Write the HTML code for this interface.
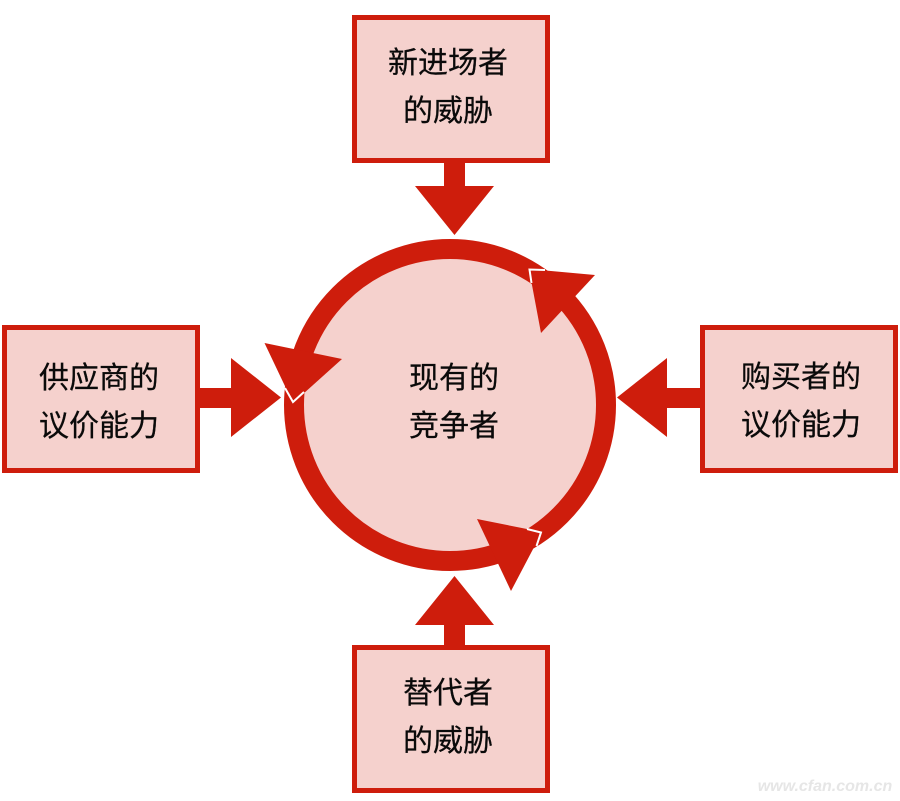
<!DOCTYPE html>
<html lang="zh">
<head>
<meta charset="utf-8">
<title>Diagram</title>
<style>
html,body{margin:0;padding:0;background:#fff;}
body{width:900px;height:801px;overflow:hidden;}
svg{display:block;}
text{font-family:"Liberation Sans","Noto Sans CJK SC",sans-serif;font-size:30px;fill:#0a0a0a;stroke:#0a0a0a;stroke-width:0.25px;text-anchor:middle;}
</style>
</head>
<body>
<svg width="900" height="801" viewBox="0 0 900 801" xmlns="http://www.w3.org/2000/svg">
  <!-- boxes -->
  <g fill="#f5d1cd" stroke="#ce1d0c" stroke-width="5">
    <rect x="354.500" y="17.500" width="193" height="143"/>
    <rect x="354.500" y="647.500" width="193" height="143"/>
    <rect x="4.500" y="327.500" width="193" height="143"/>
    <rect x="702.500" y="327.500" width="193" height="143"/>
  </g>
  <!-- block arrows -->
  <g fill="#ce1d0c">
    <polygon points="444,163 465,163 465,186 494,186 454.500,235 415,186 444,186"/>
    <polygon points="444,645 465,645 465,625 494,625 454.500,576 415,625 444,625"/>
    <polygon points="200,388 231,388 231,358 281,397.500 231,437 231,408 200,408"/>
    <polygon points="700,388 667,388 667,358 617,397.500 667,437 667,408 700,408"/>
  </g>
  <!-- circle and ring -->
  <circle cx="450" cy="405" r="148" fill="#f5d1cd"/>
  <circle cx="450" cy="405" r="156" fill="none" stroke="#ce1d0c" stroke-width="20"/>
  <!-- arc arrowheads -->
  <g fill="#ce1d0c">
    <polygon points="264.500,343 342,359 293,403"/>
    <polygon points="529,269 595,275 541,333"/>
    <polygon points="477,519 542,532 511,591"/>
  </g>
  <!-- white edges -->
  <g fill="none" stroke="#fff" stroke-width="2">
    <polyline points="285,388 293,402 304,392"/>
    <polyline points="545,270 529.500,269.500 531.500,283"/>
    <polyline points="527,529 541,532.500 536.500,546"/>
  </g>
  <!-- labels -->
  <text x="448" y="73">新进场者</text>
  <text x="448" y="121">的威胁</text>
  <text x="99" y="388">供应商的</text>
  <text x="99" y="436">议价能力</text>
  <text x="454" y="388">现有的</text>
  <text x="454" y="436">竞争者</text>
  <text x="801" y="387">购买者的</text>
  <text x="801" y="435">议价能力</text>
  <text x="448" y="703">替代者</text>
  <text x="448" y="751">的威胁</text>
  <!-- watermark -->
  <text x="825" y="791" style="font-size:16px;font-style:italic;font-weight:bold;fill:#e6e6e6;stroke:none">www.cfan.com.cn</text>
</svg>
</body>
</html>
